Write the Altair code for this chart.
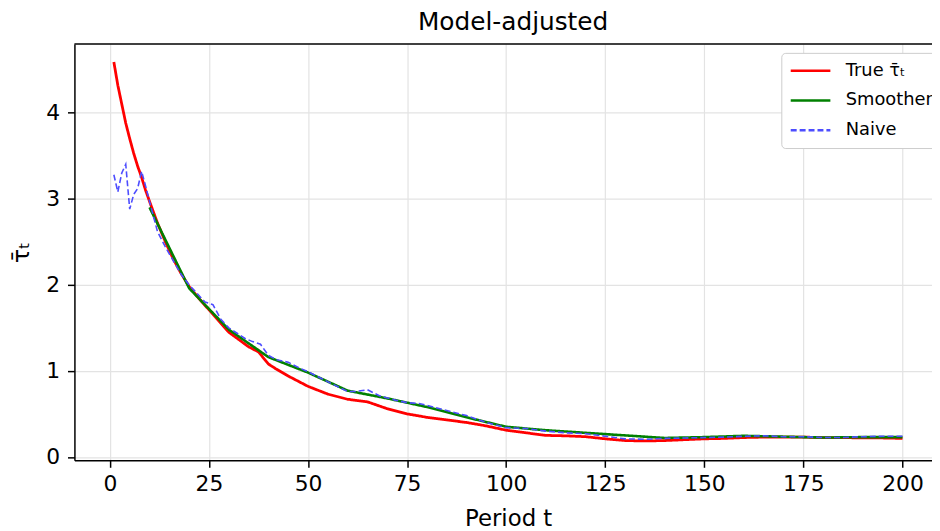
import altair as alt
import pandas as pd

# ---- data ----
true_t = [1, 2, 3, 4, 5, 6, 7, 8, 9, 10, 12, 14, 16, 18, 20, 22.5, 25, 30, 35, 37.5, 40, 42,
          45, 50, 55, 60, 65, 70, 75, 80, 85, 90, 95, 100, 105, 110, 115, 120, 125, 130, 135,
          140, 145, 150, 155, 160, 165, 170, 175, 180, 185, 190, 195, 200]
true_v = [4.59, 4.32, 4.10, 3.88, 3.70, 3.53, 3.38, 3.25, 3.10, 2.97, 2.72, 2.50, 2.30, 2.13,
          1.98, 1.84, 1.71, 1.45, 1.28, 1.22, 1.08, 1.02, 0.94, 0.82, 0.73, 0.67, 0.64, 0.56,
          0.50, 0.46, 0.43, 0.40, 0.36, 0.31, 0.28, 0.25, 0.245, 0.235, 0.21, 0.19, 0.185,
          0.19, 0.20, 0.21, 0.215, 0.225, 0.23, 0.23, 0.23, 0.225, 0.225, 0.22, 0.22, 0.215]

smooth_t = [10, 20, 30, 40, 50, 60, 70, 80, 90, 100, 110, 120, 130, 140, 150, 160, 170, 180, 190, 200]
smooth_v = [2.90, 1.96, 1.48, 1.16, 0.98, 0.77, 0.68, 0.58, 0.46, 0.35, 0.31, 0.28, 0.25, 0.22,
            0.23, 0.245, 0.235, 0.225, 0.23, 0.23]

naive_t = [1, 2, 3, 4, 5, 6, 7, 8, 9, 10, 12, 14, 16, 18, 20, 22, 24, 26, 28, 30, 32, 34, 36,
           38, 40, 42, 45, 48, 50, 53, 56, 60, 62, 65, 68, 72, 75, 78, 80, 85, 90, 95, 100, 105,
           110, 115, 120, 125, 130, 135, 140, 145, 150, 155, 160, 165, 170, 175, 180, 185, 190,
           195, 200]
naive_v = [3.28, 3.08, 3.30, 3.40, 2.88, 3.05, 3.12, 3.32, 3.15, 2.97, 2.62, 2.44, 2.28, 2.12,
           2.00, 1.90, 1.80, 1.77, 1.60, 1.50, 1.44, 1.38, 1.34, 1.31, 1.18, 1.13, 1.10, 1.03,
           0.99, 0.92, 0.85, 0.76, 0.76, 0.78, 0.71, 0.66, 0.63, 0.62, 0.60, 0.54, 0.48, 0.40,
           0.34, 0.33, 0.30, 0.28, 0.27, 0.24, 0.21, 0.205, 0.215, 0.22, 0.225, 0.23, 0.24,
           0.245, 0.235, 0.235, 0.225, 0.225, 0.235, 0.24, 0.24]

series_names = ["True τ̄ₜ", "Smoother", "Naive"]
series_colors = ["#ff0000", "#008000", "#4d4dff"]
series_dash = [[1, 0], [1, 0], [6, 3]]
series_width = [2.8, 2.6, 1.6]

x_ticks = [0, 25, 50, 75, 100, 125, 150, 175, 200]
y_ticks = [0, 1, 2, 3, 4]

df = pd.concat([
    pd.DataFrame({"t": true_t, "v": true_v, "series": series_names[0]}),
    pd.DataFrame({"t": smooth_t, "v": smooth_v, "series": series_names[1]}),
    pd.DataFrame({"t": naive_t, "v": naive_v, "series": series_names[2]}),
], ignore_index=True)

W, H = 865, 420
FONT = "DejaVu Sans"

legend = alt.Legend(
    title=None, orient="none", legendX=713, legendY=9,
    symbolType="stroke", symbolSize=1600, symbolStrokeWidth=2.5,
    labelFont=FONT, labelFontSize=18, labelColor="black", labelOffset=14,
    strokeColor="#cccccc", fillColor="white", padding=8, cornerRadius=4,
    clipHeight=20, rowPadding=10,
)

base = alt.Chart(df).encode(
    x=alt.X("t:Q",
            scale=alt.Scale(domain=[-8.95, 207.45], nice=False, zero=False),
            axis=alt.Axis(values=x_ticks, title="Period t", titleX=W / 2 + 5, titleY=66,
                          titleBaseline="alphabetic", titleAlign="center", labelPadding=6)),
    y=alt.Y("v:Q",
            scale=alt.Scale(domain=[-0.04, 4.80], nice=False, zero=False),
            axis=alt.Axis(values=y_ticks, title="τ̄ₜ", titleX=-53, titleY=H / 2,
                          titleAngle=270, titleBaseline="middle", titleAlign="center",
                          titleFontSize=24, labelPadding=8)),
    color=alt.Color("series:N",
                    scale=alt.Scale(domain=series_names, range=series_colors),
                    sort=series_names, legend=legend),
    strokeDash=alt.StrokeDash("series:N",
                              scale=alt.Scale(domain=series_names, range=series_dash),
                              sort=series_names, legend=legend),
)

layers = []
for name, w in zip(series_names, series_width):
    layers.append(
        base.transform_filter(alt.datum.series == name).mark_line(strokeWidth=w)
    )

top_spine = alt.Chart(pd.DataFrame({"a": [0]})).mark_rule(color="black", strokeWidth=1.5).encode(
    x=alt.value(0), x2=alt.value(W), y=alt.value(0)
)

chart = alt.layer(*layers, top_spine).properties(
    width=W, height=H,
    title=alt.Title("Model-adjusted", font=FONT, fontSize=25, fontWeight="normal",
                    color="black", baseline="alphabetic", offset=14, dx=10, dy=26,
                    frame="group"),
    autosize=alt.AutoSizeParams(type="none"),
    padding={"left": 67, "top": 34, "right": 0, "bottom": 68},
).configure_view(stroke=None).configure_axis(
    labelFont=FONT, labelFontSize=22, labelColor="black",
    titleFont=FONT, titleFontSize=23, titleFontWeight="normal", titleColor="black",
    domainColor="black", domainWidth=1.5, tickColor="black", tickWidth=1.5, tickSize=7,
    gridColor="#e3e3e3", gridWidth=1.2,
)

chart.save("out.html", embed_options={"renderer": "svg", "actions": False})
